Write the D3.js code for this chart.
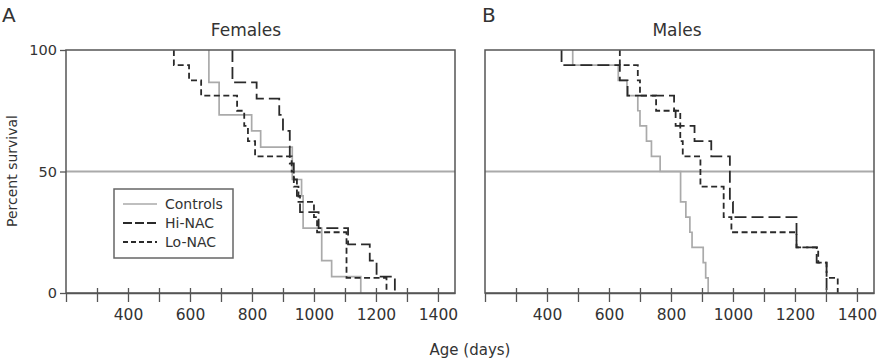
<!DOCTYPE html>
<html>
<head>
<meta charset="utf-8">
<script src="https://cdn.jsdelivr.net/npm/d3@7"></script>
<style>
body { margin: 0; background: #fff; }
svg text { font-family: "DejaVu Sans", sans-serif; fill: #333; }
</style>
</head>
<body>
<svg id="chart" width="878" height="362"></svg>
<script>
// survival steps: [age in days, percent still alive after that day]
var femalesControls = [[661, 86.7], [694, 73.3], [799, 66.7], [828, 60], [930, 46.7], [960, 40], [965, 26.7], [1025, 13.3], [1057, 6.7], [1151, 0]];
var femalesHiNac = [[737, 86.7], [815, 80], [888, 73.3], [900, 66.7], [922, 53.3], [935, 46.7], [945, 40], [955, 33.3], [1015, 26.7], [1110, 20], [1180, 13.3], [1202, 6.7], [1261, 0]];
var femalesLoNac = [[548, 93.75], [597, 87.5], [636, 81.25], [752, 75], [775, 68.75], [787, 62.5], [810, 56.25], [928, 50], [935, 43.75], [950, 37.5], [1000, 31.25], [1010, 25], [1105, 6.25], [1234, 0]];

var malesControls = [[483, 93.75], [630, 87.5], [658, 81.25], [693, 75], [700, 68.75], [721, 62.5], [737, 56.25], [765, 50], [831, 37.5], [848, 31.25], [861, 25], [868, 18.75], [904, 12.5], [912, 6.25], [920, 0]];
var malesHiNac = [[447, 93.75], [635, 87.5], [660, 81.25], [810, 75], [815, 68.75], [876, 62.5], [930, 56.25], [990, 37.5], [1000, 31.25], [1205, 18.75], [1270, 12.5], [1302, 0]];
var malesLoNac = [[635, 93.75], [693, 87.5], [700, 81.25], [752, 75], [830, 62.5], [838, 56.25], [895, 43.75], [970, 31.25], [995, 25], [1205, 18.75], [1275, 12.5], [1302, 6.25], [1338, 0]];

var seriesNames = ["Controls", "Hi-NAC", "Lo-NAC"];
var xTicks = [200, 300, 400, 500, 600, 700, 800, 900, 1000, 1100, 1200, 1300, 1400];
var xLabels = [400, 600, 800, 1000, 1200, 1400];
var yTicks = [0, 50, 100];

var style = {
    top: 50,
    bottom: 293,
    colors: ["#aaa", "#2a2a2a", "#2a2a2a"],
    dashes: [null, "12,5", "6,3.5"],
    widths: [1.7, 1.8, 1.8],
    frame: "#555"
};

var svg = d3.select("#chart");

var drawPanel = function(opts) {
    var x = d3.scaleLinear().domain([200, 1455]).range([opts.left, opts.right]);
    var y = d3.scaleLinear().domain([0, 100]).range([style.bottom, style.top]);
    var g = svg.append("g");

    // 50% reference line
    g.append("line")
        .attr("x1", opts.left).attr("x2", opts.right)
        .attr("y1", y(50)).attr("y2", y(50))
        .attr("stroke", "#aaa")
        .attr("stroke-width", 1.8);

    var line = d3.line()
        .x(function(d) { return x(d[0]); })
        .y(function(d) { return y(d[1]); })
        .curve(d3.curveStepAfter);

    opts.series.forEach(function(s, i) {
        g.append("path")
            .attr("d", line([[s[0][0], 100]].concat(s)))
            .attr("fill", "none")
            .attr("stroke", style.colors[i])
            .attr("stroke-width", style.widths[i])
            .attr("stroke-dasharray", style.dashes[i]);
    });

    g.append("rect")
        .attr("x", opts.left).attr("y", style.top)
        .attr("width", opts.right - opts.left)
        .attr("height", style.bottom - style.top)
        .attr("fill", "none")
        .attr("stroke", style.frame)
        .attr("stroke-width", 1.5);

    var xAxis = d3.axisBottom(x)
        .tickValues(xTicks)
        .tickSizeInner(9)
        .tickSizeOuter(0)
        .tickPadding(7)
        .tickFormat(function(d) { return xLabels.indexOf(d) >= 0 ? d : ""; });

    var ax = g.append("g")
        .attr("transform", "translate(0," + style.bottom + ")")
        .call(xAxis);
    ax.select(".domain").attr("stroke", style.frame).attr("stroke-width", 1.5);
    ax.selectAll(".tick line").attr("y1", -5).attr("stroke", style.frame).attr("stroke-width", 1.3);
    ax.selectAll(".tick line").filter(function(d) { return d === 200; }).attr("y1", 0);
    ax.selectAll("text").attr("font-family", "DejaVu Sans").attr("font-size", 15.5).attr("fill", "#333");

    if (opts.yAxis) {
        var ay = g.append("g")
            .attr("transform", "translate(" + opts.left + ",0)")
            .call(d3.axisLeft(y).tickValues(yTicks).tickSizeInner(6).tickSizeOuter(0).tickPadding(3));
        ay.select(".domain").remove();
        ay.selectAll(".tick line").attr("stroke", style.frame).attr("stroke-width", 1.3);
        ay.selectAll("text").attr("font-family", "DejaVu Sans").attr("font-size", 14.5).attr("fill", "#333");
    }

    g.append("text")
        .attr("x", opts.titleX).attr("y", 36)
        .attr("text-anchor", "middle")
        .attr("font-size", 17)
        .text(opts.title);

    g.append("text")
        .attr("x", opts.letterX).attr("y", 22)
        .attr("font-size", 20)
        .text(opts.letter);

    return g;
};

var panelA = drawPanel({
    left: 66, right: 455, title: "Females", titleX: 246,
    letter: "A", letterX: 2, yAxis: true,
    series: [femalesControls, femalesHiNac, femalesLoNac]
});

drawPanel({
    left: 485, right: 874, title: "Males", titleX: 677,
    letter: "B", letterX: 482, yAxis: false,
    series: [malesControls, malesHiNac, malesLoNac]
});

// legend
var legend = panelA.append("g");
legend.append("rect")
    .attr("x", 114).attr("y", 189)
    .attr("width", 119).attr("height", 69)
    .attr("fill", "#fff")
    .attr("stroke", "#666")
    .attr("stroke-width", 1.5);

seriesNames.forEach(function(name, i) {
    var ly = 204 + i * 19;
    legend.append("line")
        .attr("x1", 123).attr("x2", 157)
        .attr("y1", ly).attr("y2", ly)
        .attr("stroke", style.colors[i])
        .attr("stroke-width", style.widths[i])
        .attr("stroke-dasharray", i === 1 ? "9,3" : i === 2 ? "5,3" : null);
    legend.append("text")
        .attr("x", 165).attr("y", ly + 5)
        .attr("font-size", 14)
        .text(name);
});

svg.append("text")
    .attr("x", 470).attr("y", 355)
    .attr("text-anchor", "middle")
    .attr("font-size", 15)
    .text("Age (days)");

svg.append("text")
    .attr("transform", "translate(17,171) rotate(-90)")
    .attr("text-anchor", "middle")
    .attr("font-size", 14)
    .text("Percent survival");
</script>
</body>
</html>
